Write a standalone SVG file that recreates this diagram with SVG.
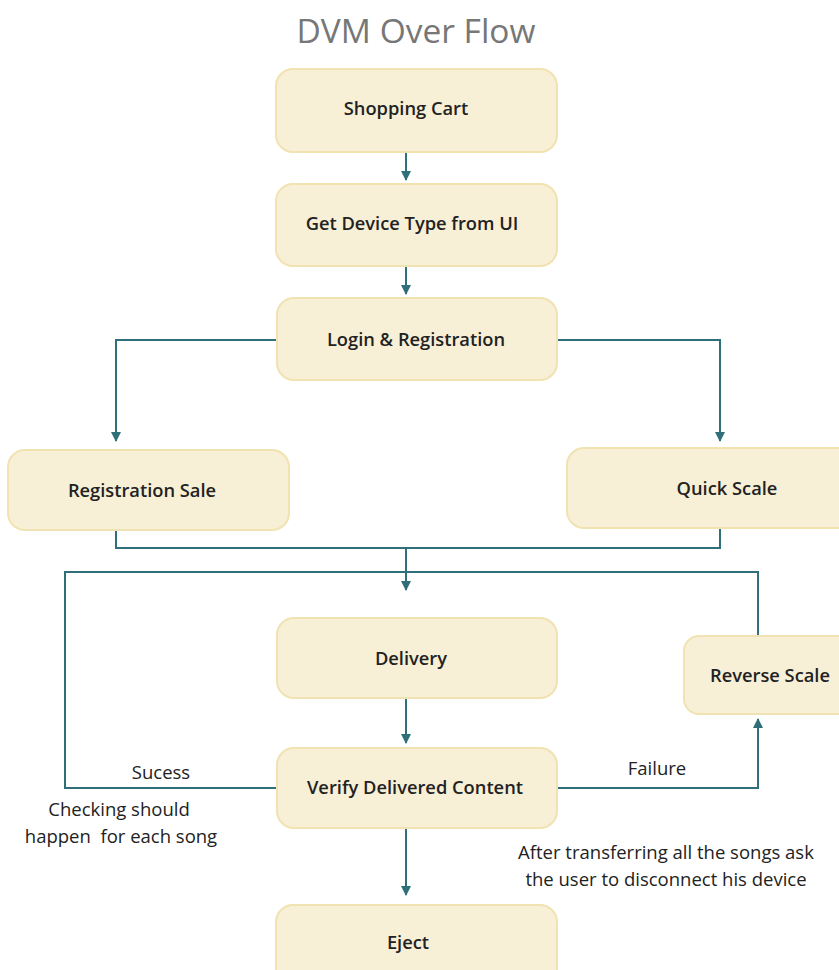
<svg xmlns="http://www.w3.org/2000/svg" width="839" height="970" viewBox="0 0 839 970">
<style>
.box{fill:#f8f0d6;stroke:#f1e2b2;stroke-width:2}
.lbl{font-family:"Open Sans","Liberation Sans",sans-serif;font-weight:600;font-size:18.3px;fill:#222;text-anchor:middle}
.note{font-family:"Open Sans","Liberation Sans",sans-serif;font-weight:500;font-size:18.5px;fill:#222;text-anchor:middle}
.c{fill:none;stroke:#2f6f79;stroke-width:2}
</style>
<defs>
<marker id="ah" markerUnits="userSpaceOnUse" markerWidth="10" markerHeight="10" refX="9" refY="5" orient="auto">
<path d="M0,0 L10,5 L0,10 Z" fill="#2f6f79"/>
</marker>
</defs>
<rect width="839" height="970" fill="#fff"/>
<text x="416" y="43" font-family="'Open Sans','Liberation Sans',sans-serif" font-size="33.5" fill="#777" text-anchor="middle">DVM Over Flow</text>

<g id="connectors">
<path class="c" d="M406,152 V180" marker-end="url(#ah)"/>
<path class="c" d="M406,266 V294" marker-end="url(#ah)"/>
<path class="c" d="M277,340 H116 V441" marker-end="url(#ah)"/>
<path class="c" d="M556,340 H720 V441" marker-end="url(#ah)"/>
<path class="c" d="M116,530 V548 H720 V528"/>
<path class="c" d="M406,548 V590" marker-end="url(#ah)"/>
<path class="c" d="M277,788 H65 V572 H758 V636"/>
<path class="c" d="M406,698 V743" marker-end="url(#ah)"/>
<path class="c" d="M557,788 H758 V719" marker-end="url(#ah)"/>
<path class="c" d="M406,829 V895" marker-end="url(#ah)"/>
</g>

<g id="shopping-cart"><rect class="box" x="276" y="69" width="281" height="83" rx="17"/><text class="lbl" x="406" y="115">Shopping Cart</text></g>
<g id="get-device-type"><rect class="box" x="276" y="184" width="281" height="82" rx="17"/><text class="lbl" x="412" y="230">Get Device Type from UI</text></g>
<g id="login-registration"><rect class="box" x="277" y="298" width="280" height="82" rx="17"/><text class="lbl" x="416" y="346">Login &amp; Registration</text></g>
<g id="registration-sale"><rect class="box" x="8" y="450" width="281" height="80" rx="17"/><text class="lbl" x="142" y="497">Registration Sale</text></g>
<g id="quick-scale"><rect class="box" x="567" y="448" width="290" height="80" rx="17"/><text class="lbl" x="727" y="495">Quick Scale</text></g>
<g id="delivery"><rect class="box" x="277" y="618" width="280" height="80" rx="17"/><text class="lbl" x="411" y="665">Delivery</text></g>
<g id="reverse-scale"><rect class="box" x="684" y="636" width="180" height="78" rx="15"/><text class="lbl" x="770" y="682">Reverse Scale</text></g>
<g id="verify"><rect class="box" x="277" y="748" width="280" height="80" rx="17"/><text class="lbl" x="415" y="794">Verify Delivered Content</text></g>
<g id="eject"><rect class="box" x="276" y="905" width="281" height="80" rx="17"/><text class="lbl" x="408" y="949">Eject</text></g>

<g id="labels">
<text class="note" x="161" y="779">Sucess</text>
<text class="note" x="119" y="816">Checking should</text>
<text class="note" x="121" y="843" xml:space="preserve">happen  for each song</text>
<text class="note" x="657" y="775">Failure</text>
<text class="note" x="666" y="859">After transferring all the songs ask</text>
<text class="note" x="666" y="886">the user to disconnect his device</text>
</g>
</svg>
